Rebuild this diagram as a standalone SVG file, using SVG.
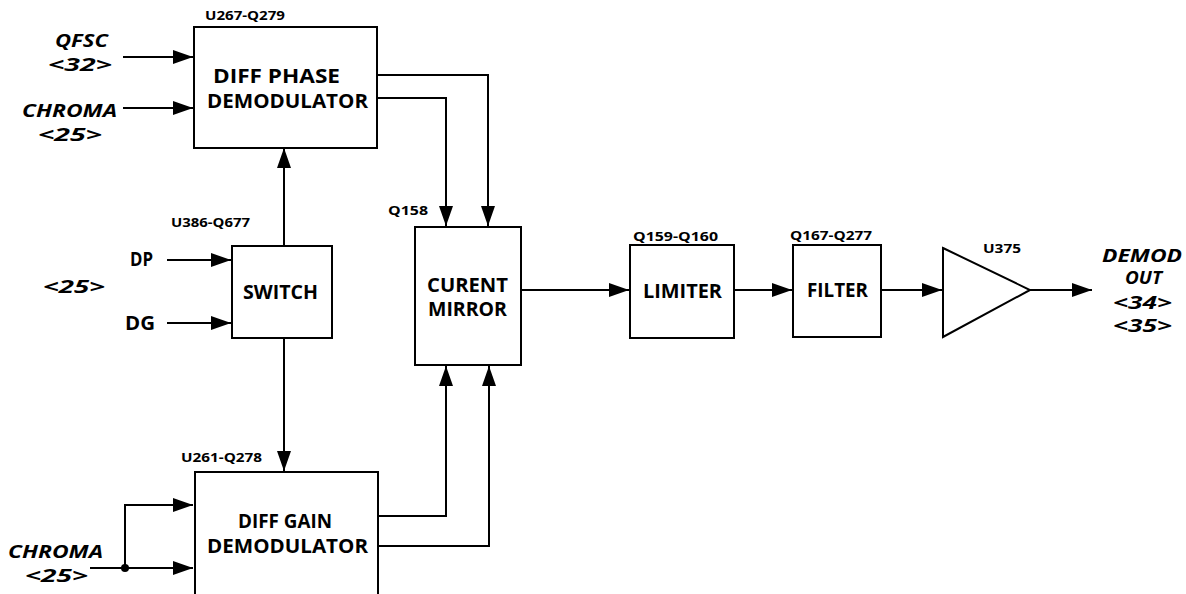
<svg xmlns="http://www.w3.org/2000/svg" width="1186" height="594" viewBox="0 0 1186 594">
<style>
.box{fill:#fff;stroke:#000;stroke-width:2}
.ln{fill:none;stroke:#000;stroke-width:2;marker-end:url(#ah)}
text{font-family:"Open Sans","Liberation Sans",sans-serif;font-weight:bold;fill:#000}
.big{font-size:19px}
.sm{font-size:12px}
.it{font-size:18px;font-style:italic}
</style>
<defs>
<marker id="ah" markerWidth="20" markerHeight="14" refX="20" refY="7" orient="auto" markerUnits="userSpaceOnUse">
<path d="M0,0 L20,7 L0,14 z" fill="#000"/>
</marker>
</defs>
<rect width="1186" height="594" fill="#fff"/>
<g id="connectors">
<path class="ln" d="M123,57 H193"/>
<path class="ln" d="M123,108 H193"/>
<path class="ln" d="M284,246 V148"/>
<path class="ln" d="M284,338 V471"/>
<path class="ln" d="M167,260 H231"/>
<path class="ln" d="M167,323 H231"/>
<path class="ln" d="M377,75 H488 V226"/>
<path class="ln" d="M377,98 H446 V226"/>
<path class="ln" d="M378,516 H446 V366"/>
<path class="ln" d="M378,546 H489 V366"/>
<path class="ln" d="M521,290 H629"/>
<path class="ln" d="M734,290 H792"/>
<path class="ln" d="M881,290 H942"/>
<path class="ln" d="M1030,290 H1092"/>
<path class="ln" d="M90,568 H193"/>
<path class="ln" d="M125,568 V505 H193"/>
<circle cx="125" cy="568" r="4" fill="#000"/>
</g>
<g id="inputs-top">
<text class="it" x="55" y="47" textLength="53" lengthAdjust="spacingAndGlyphs">QFSC</text>
<text class="it" x="48" y="71" textLength="64" lengthAdjust="spacingAndGlyphs">&lt;32&gt;</text>
<text class="it" x="22" y="117" textLength="95" lengthAdjust="spacingAndGlyphs">CHROMA</text>
<text class="it" x="38" y="141" textLength="64" lengthAdjust="spacingAndGlyphs">&lt;25&gt;</text>
</g>
<g id="diff-phase">
<rect class="box" x="194" y="27" width="183" height="121"/>
<text class="sm" x="205" y="20" textLength="80" lengthAdjust="spacingAndGlyphs">U267-Q279</text>
<text class="big" x="213" y="83" textLength="127" lengthAdjust="spacingAndGlyphs">DIFF PHASE</text>
<text class="big" x="207" y="108" textLength="161" lengthAdjust="spacingAndGlyphs">DEMODULATOR</text>
</g>
<g id="switch">
<rect class="box" x="232" y="246" width="100" height="92"/>
<text class="sm" x="171" y="227" textLength="79" lengthAdjust="spacingAndGlyphs">U386-Q677</text>
<text class="big" x="243" y="299" textLength="75" lengthAdjust="spacingAndGlyphs">SWITCH</text>
<text class="big" x="130" y="266" textLength="23" lengthAdjust="spacingAndGlyphs">DP</text>
<text class="it" x="43" y="293" textLength="62" lengthAdjust="spacingAndGlyphs">&lt;25&gt;</text>
<text class="big" x="125" y="330" textLength="30" lengthAdjust="spacingAndGlyphs">DG</text>
</g>
<g id="diff-gain">
<rect class="box" x="195" y="472" width="183" height="130"/>
<text class="sm" x="181" y="462" textLength="81" lengthAdjust="spacingAndGlyphs">U261-Q278</text>
<text class="big" x="238" y="528" textLength="94" lengthAdjust="spacingAndGlyphs">DIFF GAIN</text>
<text class="big" x="207" y="553" textLength="161" lengthAdjust="spacingAndGlyphs">DEMODULATOR</text>
<text class="it" x="8" y="558" textLength="95" lengthAdjust="spacingAndGlyphs">CHROMA</text>
<text class="it" x="25" y="582" textLength="63" lengthAdjust="spacingAndGlyphs">&lt;25&gt;</text>
</g>
<g id="current-mirror">
<rect class="box" x="415" y="227" width="106" height="138"/>
<text class="sm" x="388" y="215" textLength="40" lengthAdjust="spacingAndGlyphs">Q158</text>
<text class="big" x="427" y="292" textLength="81" lengthAdjust="spacingAndGlyphs">CURENT</text>
<text class="big" x="428" y="316" textLength="79" lengthAdjust="spacingAndGlyphs">MIRROR</text>
</g>
<g id="limiter">
<rect class="box" x="630" y="245" width="104" height="93"/>
<text class="sm" x="633" y="241" textLength="85" lengthAdjust="spacingAndGlyphs">Q159-Q160</text>
<text class="big" x="643" y="298" textLength="79" lengthAdjust="spacingAndGlyphs">LIMITER</text>
</g>
<g id="filter">
<rect class="box" x="793" y="245" width="88" height="92"/>
<text class="sm" x="790" y="240" textLength="82" lengthAdjust="spacingAndGlyphs">Q167-Q277</text>
<text class="big" x="807" y="297" textLength="61" lengthAdjust="spacingAndGlyphs">FILTER</text>
</g>
<g id="amplifier">
<path class="box" d="M943,248 L1030,290 L943,337 Z"/>
<text class="sm" x="983" y="253" textLength="38" lengthAdjust="spacingAndGlyphs">U375</text>
</g>
<g id="output">
<text class="it" x="1102" y="262" textLength="80" lengthAdjust="spacingAndGlyphs">DEMOD</text>
<text class="it" x="1125" y="284" textLength="37" lengthAdjust="spacingAndGlyphs">OUT</text>
<text class="it" x="1113" y="309" textLength="59" lengthAdjust="spacingAndGlyphs">&lt;34&gt;</text>
<text class="it" x="1113" y="332" textLength="59" lengthAdjust="spacingAndGlyphs">&lt;35&gt;</text>
</g>
</svg>
